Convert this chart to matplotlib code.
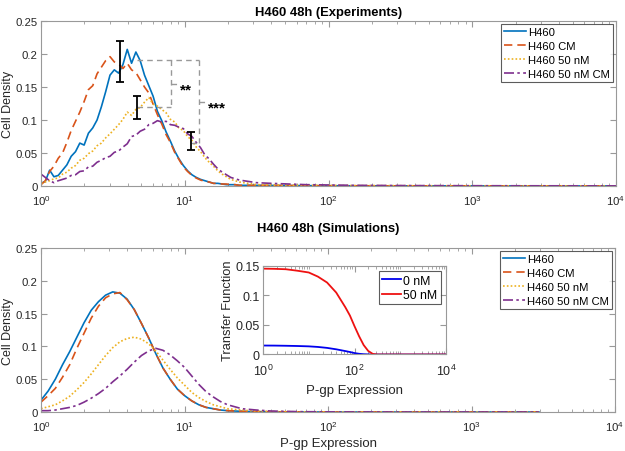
import numpy as np
import matplotlib
matplotlib.use("Agg")
import matplotlib.pyplot as plt
from matplotlib.ticker import LogLocator, FormatStrFormatter, NullFormatter

plt.rcParams["font.family"] = ["Liberation Sans", "DejaVu Sans"]
plt.rcParams["mathtext.fontset"] = "custom"
plt.rcParams["mathtext.rm"] = "Liberation Sans"
plt.rcParams["mathtext.it"] = "Liberation Sans:italic"

# --- experiments: histogram bin centres (log spaced) + sparse tail ---
exp_bins = np.logspace(0, 1.5, 51)
exp_tail = [40, 70, 150, 400, 1000, 3000, 10000]

exp_h460 = [0.004, 0.007, 0.024, 0.014, 0.016, 0.024, 0.032, 0.045, 0.052, 0.065,
            0.062, 0.080, 0.088, 0.100, 0.120, 0.143, 0.168, 0.176, 0.171, 0.184,
            0.207, 0.186, 0.203, 0.190, 0.168, 0.152, 0.136, 0.113, 0.099, 0.082,
            0.068, 0.053, 0.041, 0.031, 0.023, 0.017, 0.013, 0.010, 0.008, 0.006,
            0.004, 0.004, 0.003, 0.002, 0.002, 0.002, 0.001, 0.001, 0.001, 0.001,
            0.001,
            0.0008, 0.0005, 0.0003, 0.0002, 0.0002, 0.0001, 0.0001]
exp_h460_cm = [0.002, 0.008, 0.022, 0.030, 0.042, 0.050, 0.066, 0.084, 0.098, 0.112,
               0.128, 0.146, 0.152, 0.170, 0.180, 0.190, 0.196, 0.188, 0.185, 0.178,
               0.186, 0.176, 0.172, 0.161, 0.150, 0.141, 0.124, 0.108, 0.094, 0.078,
               0.066, 0.051, 0.040, 0.029, 0.022, 0.016, 0.012, 0.009, 0.007, 0.006,
               0.004, 0.004, 0.003, 0.003, 0.002, 0.002, 0.001, 0.001, 0.001, 0.001,
               0.001,
               0.0008, 0.0005, 0.0003, 0.0002, 0.0002, 0.0001, 0.0001]
exp_h460_50 = [0.004, 0.006, 0.008, 0.011, 0.012, 0.018, 0.021, 0.027, 0.031, 0.039,
               0.042, 0.049, 0.053, 0.061, 0.065, 0.073, 0.079, 0.086, 0.093, 0.101,
               0.112, 0.107, 0.116, 0.119, 0.127, 0.134, 0.124, 0.121, 0.116, 0.111,
               0.101, 0.097, 0.088, 0.084, 0.075, 0.069, 0.059, 0.052, 0.043, 0.036,
               0.030, 0.023, 0.018, 0.014, 0.010, 0.008, 0.006, 0.005, 0.004, 0.003,
               0.002,
               0.0015, 0.001, 0.0006, 0.0004, 0.0003, 0.0002, 0.0001]
exp_h460_50_cm = [0.018, 0.013, 0.008, 0.005, 0.008, 0.010, 0.012, 0.016, 0.017, 0.022,
                  0.023, 0.029, 0.030, 0.036, 0.039, 0.043, 0.045, 0.051, 0.053, 0.059,
                  0.064, 0.075, 0.077, 0.083, 0.086, 0.093, 0.095, 0.099, 0.097, 0.098,
                  0.093, 0.092, 0.089, 0.087, 0.079, 0.075, 0.066, 0.058, 0.047, 0.041,
                  0.033, 0.026, 0.021, 0.017, 0.013, 0.011, 0.009, 0.008, 0.007, 0.006,
                  0.005,
                  0.004, 0.002, 0.001, 0.0006, 0.0004, 0.0003, 0.0002]

# error bars (mean, half-width) at the peaks
err_x = [3.55, 4.63, 11.1]
err_y = [0.1885, 0.119, 0.068]
err_e = [0.0315, 0.017, 0.0135]

# --- simulations ---
sim_logx = [0.00, 0.05, 0.10, 0.15, 0.20, 0.25, 0.30, 0.35, 0.40, 0.45,
            0.50, 0.55, 0.60, 0.65, 0.70, 0.75, 0.80, 0.85, 0.90, 0.95,
            1.00, 1.05, 1.10, 1.15, 1.20, 1.25, 1.30, 1.35, 1.40, 1.45,
            1.50, 1.60, 1.80, 2.00, 2.50, 3.00, 3.47]
sim_h460 = [0.018, 0.032, 0.050, 0.072, 0.092, 0.114, 0.136, 0.155, 0.168, 0.178,
            0.183, 0.181, 0.172, 0.156, 0.135, 0.113, 0.089, 0.067, 0.050, 0.035,
            0.025, 0.017, 0.011, 0.007, 0.005, 0.003, 0.002, 0.0015, 0.001, 0.0007,
            0.0005, 0.0003, 0.0001, 0, 0, 0, 0]
sim_h460_cm = [0.015, 0.025, 0.036, 0.053, 0.072, 0.097, 0.120, 0.143, 0.161, 0.174,
               0.180, 0.182, 0.171, 0.156, 0.135, 0.113, 0.089, 0.067, 0.050, 0.035,
               0.025, 0.017, 0.011, 0.007, 0.005, 0.003, 0.002, 0.0015, 0.001, 0.0007,
               0.0005, 0.0003, 0.0001, 0, 0, 0, 0]
sim_h460_50 = [0.005, 0.008, 0.011, 0.017, 0.024, 0.034, 0.045, 0.058, 0.072, 0.086,
               0.098, 0.107, 0.112, 0.114, 0.111, 0.104, 0.093, 0.079, 0.065, 0.052,
               0.041, 0.030, 0.022, 0.016, 0.011, 0.008, 0.005, 0.004, 0.003, 0.002,
               0.0015, 0.0008, 0.0002, 0, 0, 0, 0]
sim_h460_50_cm = [0.002, 0.002, 0.003, 0.005, 0.007, 0.010, 0.015, 0.021, 0.028, 0.036,
                  0.046, 0.055, 0.065, 0.076, 0.086, 0.093, 0.097, 0.094, 0.087, 0.078,
                  0.068, 0.055, 0.042, 0.031, 0.023, 0.016, 0.011, 0.008, 0.005, 0.004,
                  0.003, 0.0015, 0.0005, 0.0002, 0, 0, 0]

# --- transfer function (inset) ---
tf_logx = [0.0, 0.25, 0.5, 0.75, 1.0, 1.2, 1.4, 1.6, 1.8, 1.9, 2.0, 2.1, 2.2, 2.3, 2.4, 2.5, 3.0, 4.0]
tf_0nm = [0.0152, 0.0151, 0.0148, 0.0144, 0.0138, 0.0128, 0.0112, 0.0088, 0.0058, 0.0042,
          0.0024, 0.0012, 0.0005, 0.0002, 0.0, 0.0, 0.0, 0.0]
tf_50nm = [0.1455, 0.1452, 0.1445, 0.1420, 0.1390, 0.1320, 0.1220, 0.1050, 0.0800, 0.0660,
           0.0480, 0.0310, 0.0160, 0.0060, 0.0010, 0.0, 0.0, 0.0]

labels = ["H460", "H460 CM", "H460 50 nM", "H460 50 nM CM"]
colors = ["#0072BD", "#D95319", "#EDB120", "#7E2F8E"]
styles = ["-", (0, (5, 3)), (0, (1, 1.3)), (0, (6, 2, 1.5, 2))]
spine_c = "#999999"
txt_c = "#262626"


def style_axes(ax, ylim, yticks, lsize=8.2):
    ax.set_xscale("log")
    ax.set_xlim(1, 1e4)
    ax.set_ylim(*ylim)
    ax.set_yticks(yticks)
    ax.yaxis.set_major_formatter(FormatStrFormatter("%g"))
    ax.xaxis.set_major_locator(LogLocator(base=10, numticks=10))
    ax.xaxis.set_minor_locator(LogLocator(base=10, subs=np.arange(2, 10), numticks=20))
    ax.xaxis.set_minor_formatter(NullFormatter())
    ax.tick_params(which="both", direction="in", top=True, right=True,
                   color=spine_c, labelcolor=txt_c, labelsize=lsize)
    ax.tick_params(axis="x", pad=5)
    ax.tick_params(axis="y", pad=2.5)
    ax.tick_params(which="major", length=4)
    ax.tick_params(which="minor", length=2)
    for s in ax.spines.values():
        s.set_color(spine_c)
        s.set_linewidth(0.8)


fig = plt.figure(figsize=(6.25, 4.52), dpi=100)
ax1 = fig.add_axes([0.0656, 0.5863, 0.92, 0.365])
ax2 = fig.add_axes([0.0656, 0.0863, 0.9184, 0.363])

exp_x = list(exp_bins) + exp_tail
for ys, lab, c, ls in zip([exp_h460, exp_h460_cm, exp_h460_50, exp_h460_50_cm], labels, colors, styles):
    ax1.plot(exp_x, ys, linestyle=ls, color=c, lw=1.2, label=lab)
ax1.errorbar(err_x, err_y, yerr=err_e, fmt="none", ecolor="black", elinewidth=1.3,
             capsize=3, capthick=1.3, zorder=5)

# significance brackets
bx_a = err_x[1]
bx_b = 8.02
bx_c = 12.6
dash = dict(color="#999999", lw=1.0, ls=(0, (4, 3)))
y_top = 0.191
ax1.plot([bx_a, bx_c], [y_top, y_top], **dash)
ax1.plot([bx_b, bx_b], [y_top, err_y[1]], **dash)
ax1.plot([bx_a, bx_b], [err_y[1], err_y[1]], **dash)
ax1.plot([bx_c, bx_c], [y_top, 0.065], **dash)
ax1.plot([err_x[2], bx_c], [0.065, 0.065], **dash)
ym1 = (y_top + err_y[1]) / 2
ym2 = (y_top + 0.065) / 2
ax1.plot([bx_b, 8.85], [ym1, ym1], **dash)
ax1.plot([bx_c, 13.9], [ym2, ym2], **dash)
ax1.annotate("**", (10.2, ym1), xytext=(0, -4), textcoords="offset points",
             ha="center", va="center", fontsize=11, fontweight="bold")
ax1.annotate("***", (16.8, ym2), xytext=(0, -4), textcoords="offset points",
             ha="center", va="center", fontsize=11, fontweight="bold")

style_axes(ax1, (0, 0.25), [0, 0.05, 0.1, 0.15, 0.2, 0.25])
ax1.set_ylabel("Cell Density", fontsize=9, color=txt_c, labelpad=1)
ax1.set_title("H460 48h (Experiments)", fontsize=9.4, fontweight="bold", pad=4)
leg_kw = dict(loc="upper right", fontsize=8.1, handlelength=2.0, handletextpad=0.15,
              borderpad=0.25, labelspacing=0.35, fancybox=False, edgecolor="#333333",
              borderaxespad=0.3)
leg = ax1.legend(**leg_kw)
leg.get_frame().set_linewidth(0.8)

sim_x = [10 ** v for v in sim_logx]
for ys, lab, c, ls in zip([sim_h460, sim_h460_cm, sim_h460_50, sim_h460_50_cm], labels, colors, styles):
    ax2.plot(sim_x, ys, linestyle=ls, color=c, lw=1.2, label=lab)
style_axes(ax2, (0, 0.25), [0, 0.05, 0.1, 0.15, 0.2, 0.25])
ax2.set_ylabel("Cell Density", fontsize=9, color=txt_c, labelpad=1)
ax2.set_xlabel("P-gp Expression", fontsize=9.5, color=txt_c, labelpad=3)
ax2.set_title("H460 48h (Simulations)", fontsize=9.4, fontweight="bold", pad=12)
leg2 = ax2.legend(**leg_kw)
leg2.get_frame().set_linewidth(0.8)

# inset
ax3 = fig.add_axes([0.4208, 0.2135, 0.2928, 0.1958])
tf_x = [10 ** v for v in tf_logx]
ax3.plot(tf_x, tf_0nm, color="#0000EE", lw=1.3, label="0 nM")
ax3.plot(tf_x, tf_50nm, color="#EE1111", lw=1.3, label="50 nM")
style_axes(ax3, (0, 0.15), [0, 0.05, 0.1, 0.15], lsize=9)
ax3.set_xticks([1, 1e2, 1e4])
ax3.set_xticks([10, 1e3] + [m * 10 ** d for d in range(4) for m in range(2, 10)], minor=True)
ax3.tick_params(axis="x", pad=6)
ax3.set_ylabel("Transfer Function", fontsize=9.3, color=txt_c, labelpad=1)
ax3.set_xlabel("P-gp Expression", fontsize=9.5, color=txt_c, labelpad=4)
leg3 = ax3.legend(loc="upper right", fontsize=8.8, handlelength=1.6, handletextpad=0.15,
                  borderpad=0.25, labelspacing=0.2, fancybox=False, edgecolor="#333333",
                  borderaxespad=0.45)
leg3.get_frame().set_linewidth(0.8)

fig.savefig("out.png", dpi=100)
